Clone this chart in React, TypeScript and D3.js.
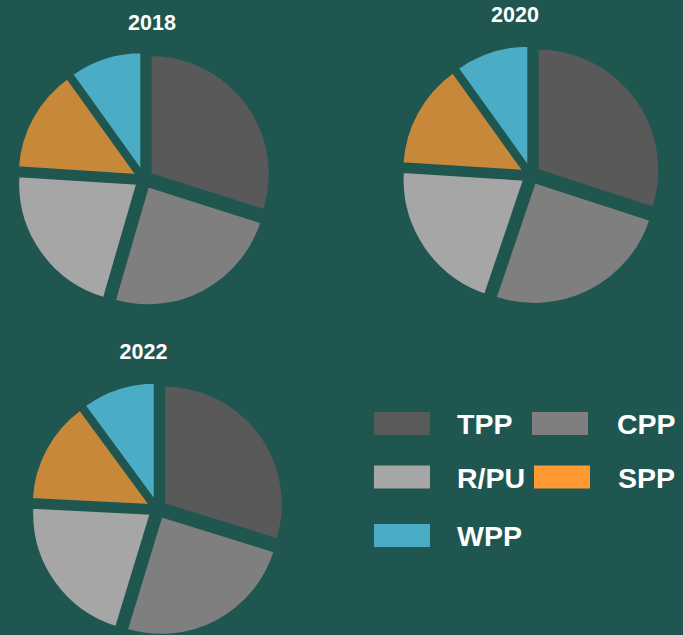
import React, { useEffect, useRef } from 'react'
import * as d3 from 'd3'

// categories + per-year shares (%)
const categories = ['TPP', 'CPP', 'R/PU', 'SPP', 'WPP']
const years = ['2018', '2020', '2022']
const values2018 = [29.9, 24.6, 21.5, 14.1, 9.9]
const values2020 = [30.0, 25.2, 20.8, 14.1, 9.9]
const values2022 = [29.8, 24.9, 21.1, 14.1, 10.1]

const sliceColors = ['#595959', '#7f7f7f', '#a6a6a6', '#c8883a', '#4bacc6']
const legendColors = ['#5a5a5a', '#7f7f7f', '#a6a6a6', '#ff9933', '#4bacc6']

const App = () => {
    const ref = useRef<SVGSVGElement>(null)

    useEffect(() => {
        const width = 683,
            height = 635,
            bg = '#1f5750'

        const svg = d3.select(ref.current)
        svg.selectAll('*').remove()
        svg.attr('width', width).attr('height', height)

        svg.append('rect')
            .attr('width', width)
            .attr('height', height)
            .attr('fill', bg)

        // pie placement (center, radius, title position)
        const layout = [
            { cx: 144, cy: 179, r: 119.5, tx: 152, ty: 30 },
            { cx: 531, cy: 175, r: 122, tx: 515, ty: 21.5 },
            { cx: 157.5, cy: 509, r: 119, tx: 143.5, ty: 359 },
        ]
        const allValues = [values2018, values2020, values2022]

        const pie = d3.pie<number>().sort(null).value(d => d)
        const explode = 8

        years.forEach((year, i) => {
            const { cx, cy, r, tx, ty } = layout[i]
            const arc = d3.arc<d3.PieArcDatum<number>>()
                .innerRadius(0)
                .outerRadius(r)

            const g = svg.append('g').attr('transform', `translate(${cx},${cy})`)

            g.selectAll('path')
                .data(pie(allValues[i]))
                .join('path')
                .attr('d', arc)
                .attr('fill', (d, j) => sliceColors[j])
                .attr('stroke', bg)
                .attr('stroke-width', 2.5)
                .attr('stroke-linejoin', 'miter')
                .attr('transform', d => {
                    // push each slice out along its bisector
                    const mid = (d.startAngle + d.endAngle) / 2
                    return `translate(${Math.sin(mid) * explode},${-Math.cos(mid) * explode})`
                })

            svg.append('text')
                .attr('x', tx)
                .attr('y', ty)
                .attr('text-anchor', 'middle')
                .attr('fill', '#ffffff')
                .style('font-family', 'Liberation Sans, Arial, sans-serif')
                .style('font-weight', 'bold')
                .style('font-size', '21.5px')
                .text(year)
        })

        // legend: 2 columns, 3 rows
        const legendPos = [
            { x: 374, y: 412, lx: 457 },
            { x: 532, y: 412, lx: 617 },
            { x: 374, y: 465.5, lx: 457 },
            { x: 534, y: 465.5, lx: 618 },
            { x: 374, y: 524, lx: 457 },
        ]
        const legend = svg.append('g')
        categories.forEach((c, i) => {
            const p = legendPos[i]
            legend.append('rect')
                .attr('x', p.x)
                .attr('y', p.y)
                .attr('width', 56)
                .attr('height', 23)
                .attr('fill', legendColors[i])
            legend.append('text')
                .attr('x', p.lx)
                .attr('y', p.y + 22)
                .attr('fill', '#ffffff')
                .style('font-family', 'Liberation Sans, Arial, sans-serif')
                .style('font-weight', 'bold')
                .style('font-size', '28.5px')
                .text(c)
        })
    }, [])

    return (
        <div style={{ position: 'absolute', left: 0, top: 0 }}>
            <svg ref={ref} style={{ display: 'block' }}></svg>
        </div>
    )
}

export default App
